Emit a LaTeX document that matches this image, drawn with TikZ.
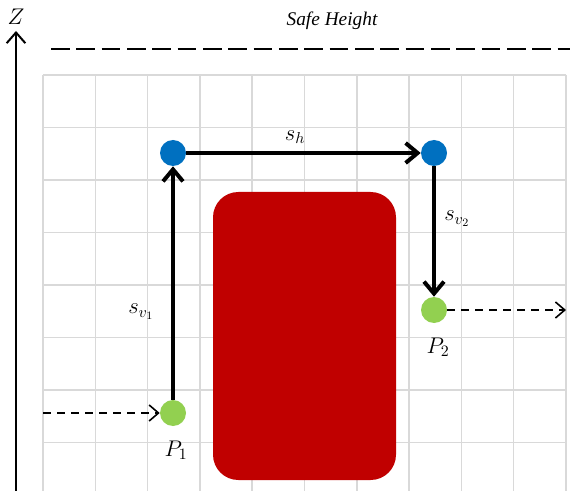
\RequirePackage{fix-cm}
\documentclass[tikz,border=0pt]{standalone}
\usepackage{fontspec}
\setmainfont{Liberation Serif}
\usetikzlibrary{arrows.meta}
\definecolor{obstred}{HTML}{C00000}
\definecolor{waypt}{HTML}{0070C0}
\definecolor{endpt}{HTML}{92D050}
\definecolor{gridgray}{HTML}{D9D9D9}
\begin{document}
\begin{tikzpicture}[x=0.75pt, y=-0.75pt,
        gridline/.style={gridgray, line width=1.1pt},
        bluept/.style={circle, fill=waypt, minimum size=19.5pt, inner sep=0pt},
        greenpt/.style={circle, fill=endpt, minimum size=19.5pt, inner sep=0pt},
        move/.style={line width=3pt, -{Straight Barb[length=9pt, width=15pt, line width=3pt]}},
        travel/.style={line width=1.2pt, dash pattern=on 6pt off 4.5pt, -{Straight Barb[length=7pt, width=12pt, line width=1.2pt]}},
        lbl/.style={font=\fontsize{17}{19}\selectfont}]
        \useasboundingbox (0,0) rectangle (570,491);

        % grid
        \foreach \i in {0,...,10}
            \draw[gridline] ({43+52.3*\i},75) -- ({43+52.3*\i},491);
        \foreach \j in {0,...,7}
            \draw[gridline] (43,{75+52.5*\j}) -- (566,{75+52.5*\j});

        % axis and safe height
        \coordinate (zbot) at (16,491);
        \coordinate (ztop) at (16,31);
        \draw[line width=1.5pt, -{Straight Barb[length=8pt, width=14pt, line width=1.5pt]}] (zbot) -- (ztop);
        \node[lbl] (zlbl) at (16,17) {$Z$};
        \coordinate (safel) at (51,49);
        \coordinate (safer) at (570,49);
        \draw[line width=1.9pt, dash pattern=on 14pt off 5pt] (safel) -- (safer);
        \node[font=\fontsize{14.5}{17}\selectfont\itshape] (safe) at (332,21) {Safe Height};

        % obstacle
        \fill[obstred, rounded corners=19pt] (213,192) rectangle (396,480);

        % points
        \node[greenpt] (p1) at (173,413) {};
        \node[bluept] (w1) at (173,153) {};
        \node[bluept] (w2) at (434,153) {};
        \node[greenpt] (p2) at (434,310) {};

        \draw[move] (p1) -- (w1);
        \draw[move] (w1) -- (w2);
        \draw[move] (w2) -- (p2);

        \coordinate (inl) at (43,413);
        \coordinate (outr) at (566,310);
        \draw[travel] (inl) -- (p1);
        \draw[travel] (p2) -- (outr);

        % labels
        \node[lbl] (sh) at (295,137) {$s_h$};
        \node[lbl] (sv1) at (141,312) {$s_{v_1}$};
        \node[lbl] (sv2) at (457,219) {$s_{v_2}$};
        \node[lbl] (p1lbl) at (176,450) {$P_1$};
        \node[lbl] (p2lbl) at (438,347) {$P_2$};

    \end{tikzpicture}
\end{document}
